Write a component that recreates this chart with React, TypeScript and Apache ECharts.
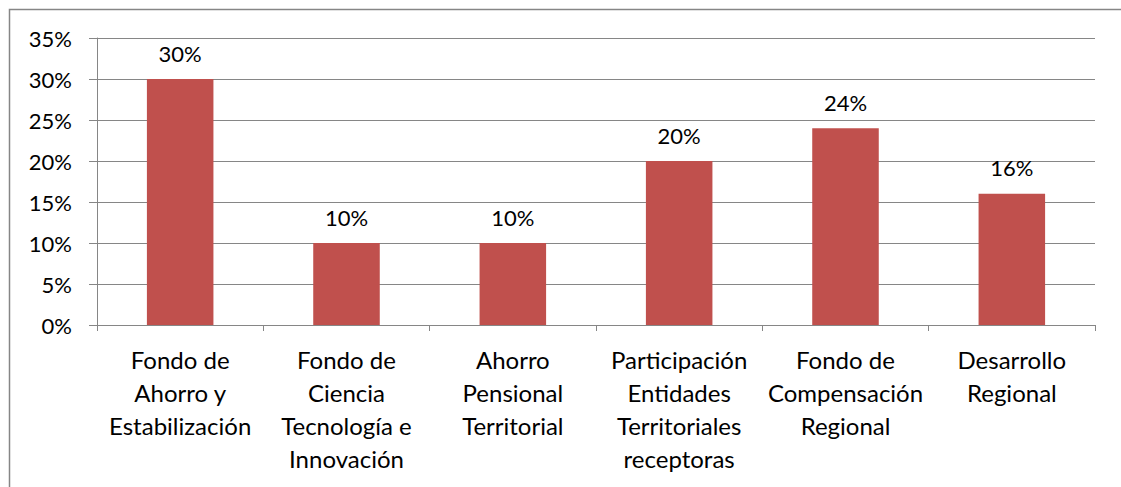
import React, { useEffect, useRef } from "react";
import * as echarts from "echarts";

const categories = [
  "Fondo de\nAhorro y\nEstabilización",
  "Fondo de\nCiencia\nTecnología e\nInnovación",
  "Ahorro\nPensional\nTerritorial",
  "Participación\nEntidades\nTerritoriales\nreceptoras",
  "Fondo de\nCompensación\nRegional",
  "Desarrollo\nRegional",
];
const values = [30, 10, 10, 20, 24, 16];
const yMin = 0;
const yMax = 35;
const yStep = 5;

const FONT = "Lato, 'Open Sans', sans-serif";
const GREY = "#868686";

export default function App() {
  const ref = useRef<HTMLDivElement>(null);
  useEffect(() => {
    if (!ref.current) return;
    const chart = echarts.init(ref.current, null, { renderer: "svg" });
    chart.setOption({
      animation: false,
      backgroundColor: "#ffffff",
      graphic: [
        {
          type: "polyline",
          shape: { points: [[9.5, 500], [9.5, 9.5], [1121, 9.5]] },
          style: { stroke: GREY, lineWidth: 1.5, fill: "none" },
          silent: true,
        },
      ],
      grid: { left: 97, right: 26, top: 38, bottom: 162, containLabel: false },
      xAxis: {
        type: "category",
        data: categories,
        axisLine: { show: true, lineStyle: { color: GREY, width: 1 } },
        axisTick: { show: true, length: 6, lineStyle: { color: GREY } },
        axisLabel: {
          color: "#000",
          fontFamily: FONT,
          fontSize: 24,
          lineHeight: 33,
          margin: 18,
          interval: 0,
        },
      },
      yAxis: {
        type: "value",
        min: yMin,
        max: yMax,
        interval: yStep,
        axisLine: { show: true, lineStyle: { color: GREY, width: 1 } },
        axisTick: { show: true, length: 8, lineStyle: { color: GREY } },
        axisLabel: {
          color: "#000",
          fontFamily: FONT,
          fontSize: 22,
          margin: 25,
          formatter: "{value}%",
        },
        splitLine: { show: true, lineStyle: { color: GREY, width: 1 } },
      },
      series: [
        {
          type: "bar",
          data: values,
          barWidth: "40%",
          itemStyle: { color: "#C0504D" },
          label: {
            show: true,
            position: "top",
            distance: 15,
            formatter: "{c}%",
            color: "#000",
            fontFamily: FONT,
            fontSize: 22,
          },
        },
      ],
    });
    return () => chart.dispose();
  }, []);
  return (
    <div
      ref={ref}
      style={{ position: "fixed", left: 0, top: 0, width: 1121, height: 487 }}
    />
  );
}
